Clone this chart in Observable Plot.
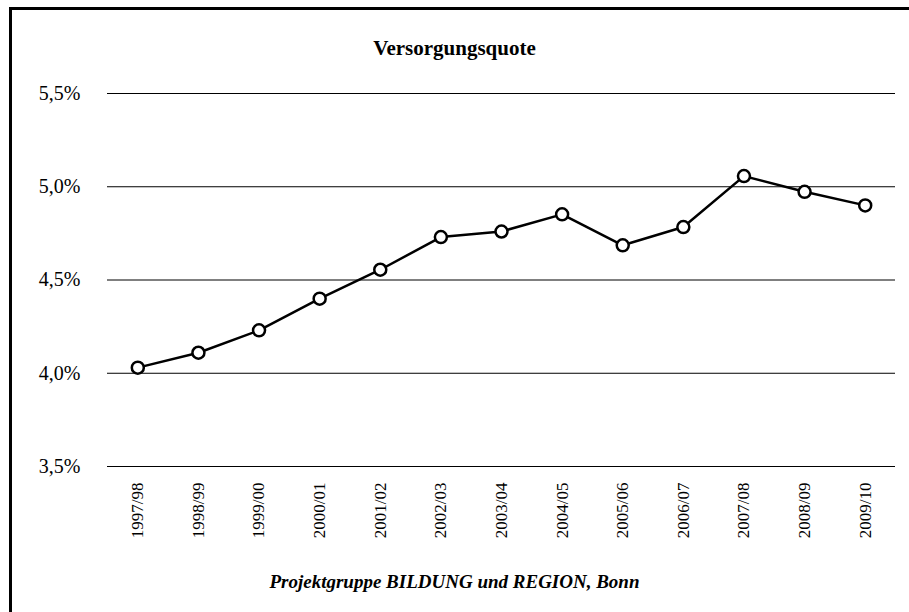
<!DOCTYPE html>
<html>
<head>
<meta charset="utf-8">
<script src="https://cdn.jsdelivr.net/npm/d3@7"></script>
<script src="https://cdn.jsdelivr.net/npm/@observablehq/plot@0.6"></script>
<style>
  html, body { margin: 0; padding: 0; background: #fff; }
  #wrap { position: relative; width: 909px; height: 612px; overflow: hidden; font-family: "Liberation Serif", "DejaVu Serif", serif; }
  #frame { position: absolute; left: 9px; top: 7px; right: -10px; bottom: -10px; border-left: 3px solid #000; border-top: 3px solid #000; }
  #title { position: absolute; left: 0; width: 909px; top: 38px; line-height: 21px; font-size: 21px; font-weight: bold; text-align: center; color: #000; }
  #chart { position: absolute; left: 0; top: 70px; }
  #caption { position: absolute; left: 0; width: 909px; top: 572px; line-height: 20px; font-size: 19px; font-weight: bold; font-style: italic; text-align: center; color: #000; }
  #chart svg text { font-family: "Liberation Serif", serif; }
</style>
</head>
<body>
<div id="wrap">
  <div id="frame"></div>
  <div id="title">Versorgungsquote</div>
  <div id="chart"></div>
  <div id="caption">Projektgruppe BILDUNG und REGION, Bonn</div>
</div>
<script>
const years = ["1997/98","1998/99","1999/00","2000/01","2001/02","2002/03","2003/04","2004/05","2005/06","2006/07","2007/08","2008/09","2009/10"];
const quote = [4.03, 4.11, 4.23, 4.40, 4.555, 4.73, 4.76, 4.852, 4.686, 4.784, 5.057, 4.973, 4.90];
const yTicks = [3.5, 4.0, 4.5, 5.0, 5.5];

const data = years.map((y, i) => ({year: y, value: quote[i]}));
const fmt = d => d.toFixed(1).replace(".", ",") + "%";

const chart = Plot.plot({
  width: 909,
  height: 480,
  marginLeft: 107,
  marginRight: 14,
  marginTop: 23,
  marginBottom: 84,
  style: { fontFamily: "'Liberation Serif', serif", background: "transparent", color: "#000" },
  x: { type: "point", domain: years, padding: 0.5, round: false, label: null },
  y: { domain: [3.5, 5.5], ticks: yTicks, label: null },
  marks: [
    Plot.ruleY(yTicks, { stroke: "#000", strokeWidth: 1 }),
    Plot.axisY({ ticks: yTicks, tickFormat: fmt, tickSize: 0, tickPadding: 27, fontSize: 20, fontFamily: "Liberation Serif", label: null }),
    Plot.axisX({ tickSize: 0, tickPadding: 16, tickRotate: -90, fontSize: 17, fontFamily: "Liberation Serif", label: null }),
    Plot.line(data, { x: "year", y: "value", stroke: "#000", strokeWidth: 2.5 }),
    Plot.dot(data, { x: "year", y: "value", r: 6, stroke: "#000", strokeWidth: 2.5, fill: "#fff" })
  ]
});
document.getElementById("chart").appendChild(chart);
</script>
</body>
</html>
